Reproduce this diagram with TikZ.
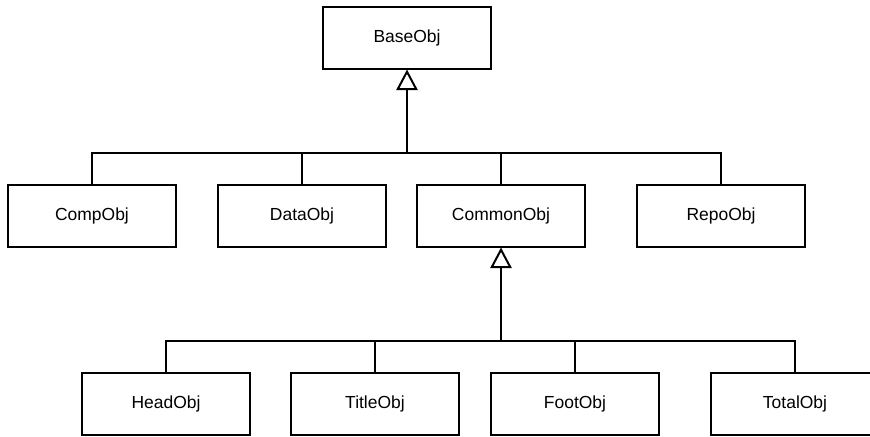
\documentclass[tikz,border=0pt]{standalone}
\usepackage{fontspec}
\setmainfont{Liberation Sans}
\usetikzlibrary{arrows.meta}
\begin{document}
\begin{tikzpicture}[x=0.75pt,y=-0.75pt,
  cls/.style={draw,line width=1.5pt,minimum width=126pt,minimum height=46.5pt,inner sep=0pt,
    font=\fontsize{13.1}{15}\selectfont},
  wire/.style={line width=1.5pt},
  inh/.style={wire,-{Triangle[open,length=15.5pt,width=16pt,line width=1.5pt]}}]
\useasboundingbox (0,0) rectangle (870,436);
\node[cls] (base) at (407,37.5) {BaseObj};
\node[cls] (comp) at (92,215.5) {CompObj};
\node[cls] (data) at (302,215.5) {DataObj};
\node[cls] (common) at (501,215.5) {CommonObj};
\node[cls] (repo) at (721,215.5) {RepoObj};
\node[cls] (head) at (166,404) {HeadObj};
\node[cls] (title) at (375,404) {TitleObj};
\node[cls] (foot) at (575,404) {FootObj};
\node[cls] (total) at (795,404) {TotalObj};
\coordinate (j1) at (407,153);
\coordinate (j2) at (501,341);
\draw[inh] (j1) -- (base.south);
\draw[wire] (comp.north) |- (j1);
\draw[wire] (repo.north) |- (j1);
\draw[wire] (data.north) -- (data.north |- j1);
\draw[wire] (common.north) -- (common.north |- j1);
\draw[inh] (j2) -- (common.south);
\draw[wire] (head.north) |- (j2);
\draw[wire] (total.north) |- (j2);
\draw[wire] (title.north) -- (title.north |- j2);
\draw[wire] (foot.north) -- (foot.north |- j2);
\end{tikzpicture}
\end{document}
